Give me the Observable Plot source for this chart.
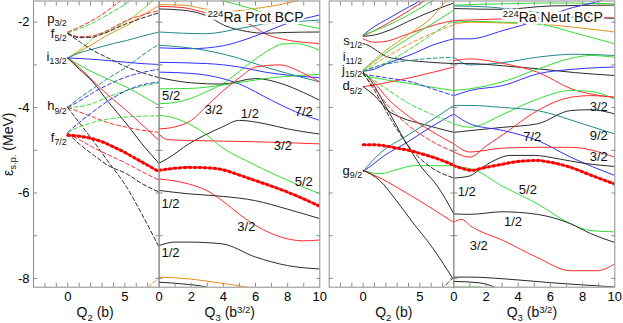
<!DOCTYPE html>
<html><head><meta charset="utf-8">
<script src="https://cdn.jsdelivr.net/npm/d3@7"></script>
<script src="https://cdn.jsdelivr.net/npm/@observablehq/plot@0.6"></script>
<style>
body{margin:0;background:#fff;}
#wrap{position:relative;width:623px;height:323px;overflow:hidden;background:#fff;}
#wrap svg{position:absolute;left:0;top:0;}
</style></head><body><div id="wrap"></div>
<script>
// ---------- values ----------
const omegaValues = ["1/2","3/2","5/2","7/2","9/2","11/2","13/2"];
const energyDomain = [-8.206, -1.504];
const energyTicks = [-8,-7,-6,-5,-4,-3,-2];
const energyLabels = [-8,-6,-4,-2];
const q2Domain = [-3, 8];
const q2Ticks = [-2,-1,0,1,2,3,4,5,6,7];
const q2Labels = [0,5];
const q3Domain = [0, 10];
const q3Ticks = [1,2,3,4,5,6,7,8,9];
const q3Labels = [0,2,4,6,8,10];

// proton, Q2 (omega, parity, points [Q2, E])
const protQ2Curves = [
  ["3/2","-",[[0,-2.23],[1.5,-2.05],[3,-1.82],[4.6,-1.5]]],
  ["5/2","-",[[0,-2.25],[1.5,-2.1],[3,-1.9],[4.6,-1.65],[5.6,-1.48]]],
  ["3/2","-",[[0,-2.25],[1,-2.34],[2,-2.33],[3,-2.25],[5.15,-1.96],[8,-1.73]]],
  ["1/2","-",[[0,-2.27],[1,-2.36],[2,-2.36],[3,-2.28],[5,-2.05],[8,-1.78]]],
  ["1/2","-",[[0,-2.27],[1,-2.45],[2.2,-2.66],[3.7,-2.86],[5.15,-3.05],[6.5,-3.18],[8,-3.3]]],
  ["13/2","+",[[0,-2.84],[1.7,-2.51],[2.6,-2.29],[3.3,-2.25],[4.5,-2.08],[5.5,-1.92],[7,-1.6],[7.6,-1.45]]],
  ["11/2","+",[[0,-2.84],[2.2,-2.51],[3.5,-2.3],[5.15,-2.08],[6.5,-1.85],[8,-1.61]]],
  ["9/2","+",[[0,-2.84],[1,-2.72],[2.2,-2.63],[4,-2.5],[5.15,-2.43],[6.5,-2.33],[8,-2.23]]],
  ["7/2","+",[[0,-2.84],[1,-2.85],[2.2,-2.87],[4,-2.91],[5.15,-2.94],[6.5,-2.97],[8,-2.99]]],
  ["5/2","+",[[0,-2.84],[1,-3.0],[2.2,-3.17],[3.5,-3.33],[5.15,-3.52],[6.5,-3.72],[8,-3.95]]],
  ["3/2","+",[[0,-2.84],[1,-3.06],[2.2,-3.37],[3.5,-3.7],[5.15,-4.07],[6.5,-4.4],[8,-4.77]]],
  ["1/2","+",[[0,-2.84],[1,-3.1],[2.2,-3.4],[3.5,-3.85],[5.15,-4.38],[6.5,-4.85],[8,-5.31]]],
  ["9/2","-",[[0,-3.99],[1,-3.78],[2.2,-3.56],[3.5,-3.32],[5.15,-3.05],[6.5,-2.78],[8,-2.51]]],
  ["7/2","-",[[0,-3.99],[1,-3.85],[2.2,-3.65],[3.5,-3.47],[5.15,-3.28],[6.5,-3.18],[8,-3.1]]],
  ["5/2","-",[[0,-3.99],[1,-3.98],[2.2,-3.9],[3.5,-3.75],[5.15,-3.6],[6.5,-3.5],[8,-3.42]]],
  ["3/2","-",[[0,-3.99],[1,-4.1],[2.2,-4.22],[3.5,-4.35],[5.15,-4.46],[6.5,-4.53],[8,-4.58]]],
  ["1/2","-",[[0,-4.0],[1,-4.35],[2.2,-4.77],[3.5,-5.25],[5.15,-5.86],[6.5,-6.5],[8,-7.27]]],
  ["7/2","-",[[0,-4.58],[1,-4.35],[2.2,-4.1],[3.5,-3.85],[5.15,-3.6],[6.5,-3.47],[8,-3.4]]],
  ["5/2","-",[[0,-4.58],[1,-4.45],[2.2,-4.35],[3.5,-4.27],[5.15,-4.22],[6.5,-4.2],[8,-4.19]]],
  ["3/2","-",[[0,-4.6],[1,-4.75],[2.2,-4.93],[3.5,-5.1],[5.15,-5.31],[6.5,-5.5],[8,-5.7]]],
  ["1/2","-",[[0,-4.6],[1,-4.85],[2.2,-5.1],[3.5,-5.35],[5.15,-5.55],[6.5,-5.78],[8,-5.98]]],
  ["11/2","-",[[6.6,-8.3],[7.3,-8.15],[8,-7.98]]]
];
const protQ2Fermi = [[0,-4.65],[1,-4.67],[2,-4.72],[3,-4.8],[4,-4.92],[5,-5.05],[6,-5.2],[7,-5.35],[8,-5.5]];

// proton, Q3 (omega, points [Q3, E])
const protQ3Curves = [
  ["11/2",[[0,-1.59],[1.5,-1.6],[3,-1.7],[4.5,-1.74],[6,-1.68],[8,-1.55],[9,-1.45]]],
  ["3/2",[[0,-1.63],[1.5,-1.66],[2.9,-1.78],[4.5,-1.92],[5.8,-2.08],[6.6,-2.27],[7.5,-2.38],[10,-2.5]]],
  ["1/2",[[0,-1.69],[1.5,-1.72],[2.9,-1.84],[4.1,-2.08],[5.5,-2.22],[6.6,-2.26],[8,-2.24],[10,-2.23]]],
  ["5/2",[[3.3,-1.42],[4,-1.5],[5.8,-1.69],[7,-1.85],[8.2,-2.0],[10,-2.15]]],
  ["7/2",[[0,-2.6],[2,-2.62],[4,-2.55],[5.8,-2.35],[7.9,-2.04],[10,-1.83]]],
  ["9/2",[[0,-2.23],[2.9,-2.27],[5,-2.15],[6.6,-2.04],[8,-2.0],[10,-1.95]]],
  ["9/2",[[0,-2.54],[2.9,-2.66],[5,-2.85],[6.6,-3.05],[8,-3.2],[10,-3.4]]],
  ["5/2",[[0,-3.91],[1,-3.88],[1.85,-3.8],[3,-3.62],[3.93,-3.45],[5,-3.15],[6,-2.86],[7,-2.62],[7.66,-2.51],[8.5,-2.5],[9.3,-2.56],[10,-2.66]]],
  ["7/2",[[0,-2.94],[3,-2.97],[5,-3.05],[6.6,-3.17],[8,-3.24],[10,-3.3]]],
  ["7/2",[[0,-3.17],[2,-3.2],[3.5,-3.28],[5,-3.45],[7,-3.83],[8.5,-4.1],[10,-4.3]]],
  ["1/2",[[0,-3.3],[2,-3.42],[3.9,-3.45],[6,-3.32],[7.7,-3.45],[9,-3.65],[10,-3.83]]],
  ["5/2",[[0,-3.56],[2,-3.55],[4,-3.47],[6.6,-3.32],[10,-3.22]]],
  ["3/2",[[0,-4.5],[1,-4.45],[2,-4.3],[3,-3.95],[4,-3.6],[5,-3.3],[6,-3.05],[7.5,-3.0],[9,-3.2],[10,-3.4]]],
  ["5/2",[[0,-4.18],[1,-4.25],[1.85,-4.38],[3,-4.65],[3.9,-4.93],[5.4,-5.24],[7.5,-5.62],[10,-6.02]]],
  ["1/2",[[0,-5.3],[0.5,-5.2],[1.85,-4.85],[3.9,-4.46],[5,-4.3],[6.6,-4.38],[8,-4.5],[10,-4.62]]],
  ["3/2",[[0,-4.62],[0.5,-4.75],[2,-4.77],[6,-4.8],[10,-4.85]]],
  ["3/2",[[0,-5.67],[1.85,-5.79],[3,-5.95],[3.93,-6.18],[5,-6.5],[6,-6.76],[7,-6.95],[8.07,-7.08],[9,-7.12],[10,-7.1]]],
  ["1/2",[[0,-5.94],[1.85,-6.02],[4,-6.08],[6,-6.18],[8,-6.38],[10,-6.6]]],
  ["1/2",[[0,-7.23],[1,-7.15],[1.85,-7.15],[3.9,-7.19],[6,-7.5],[8,-7.7],[10,-7.78]]],
  ["11/2",[[0,-7.97],[1.85,-8.01],[4,-8.12],[5.4,-8.2],[6.5,-8.3]]],
  ["1/2",[[0,-8.09],[1.5,-8.13],[2.9,-8.2],[3.8,-8.3]]]
];
const protQ3Fermi = [[0,-5.47],[1,-5.42],[1.85,-5.4],[3,-5.41],[3.9,-5.45],[5,-5.58],[6,-5.71],[8,-5.98],[10,-6.31]];

// neutron, Q2
const neutQ2Curves = [
  ["7/2","+",[[0,-2.3],[1,-2.1],[2.2,-1.92],[3.5,-1.72],[4.55,-1.57],[5,-1.5]]],
  ["3/2","+",[[0,-2.32],[1,-2.2],[2.2,-2.02],[3.5,-1.82],[4.8,-1.6],[5.4,-1.5]]],
  ["5/2","+",[[0,-2.3],[1,-2.2],[2.2,-2.07],[4,-1.83],[5.6,-1.58],[6.2,-1.48]]],
  ["1/2","+",[[0,-2.33],[1,-2.3],[2.2,-2.2],[4,-1.98],[6,-1.75],[8,-1.55]]],
  ["3/2","+",[[0,-2.39],[1,-2.47],[2,-2.45],[3.5,-2.32],[5,-2.18],[6.5,-2.05],[8,-1.96]]],
  ["1/2","+",[[0,-2.5],[0.5,-2.55],[1,-2.63],[2,-2.8],[3,-2.86],[5,-2.92],[8,-2.97]]],
  ["11/2","+",[[0,-3.12],[1,-2.88],[2,-2.66],[3,-2.47],[4.5,-2.2],[6,-1.9],[7,-1.6],[7.4,-1.48]]],
  ["11/2","-",[[0,-3.15],[2,-2.82],[4,-2.52],[6,-2.27],[8,-2.06]]],
  ["5/2","+",[[0,-3.12],[1,-2.92],[2,-2.72],[4,-2.38],[6,-2.05],[8,-1.72]]],
  ["5/2","-",[[0,-3.15],[2,-2.95],[4,-2.65],[6,-2.3],[8,-1.95]]],
  ["9/2","-",[[0,-3.15],[1,-3.05],[2.9,-2.94],[5,-2.87],[8,-2.82]]],
  ["7/2","+",[[0,-3.15],[1,-3.1],[2,-2.98],[4.4,-2.74],[6,-2.55],[8,-2.39]]],
  ["7/2","-",[[0,-3.22],[2,-3.3],[4.4,-3.41],[6,-3.55],[8,-3.72]]],
  ["5/2","+",[[0,-3.25],[2,-3.35],[4.4,-3.45],[6,-3.52],[8,-3.6]]],
  ["5/2","-",[[0,-3.2],[2,-3.55],[4,-3.9],[6,-4.15],[8,-4.38]]],
  ["3/2","+",[[0,-3.51],[1.6,-3.44],[4.3,-3.29],[8,-3.05]]],
  ["1/2","+",[[0,-3.51],[1,-3.72],[2.2,-4.07],[3.5,-4.25],[5.14,-4.38],[8,-4.58]]],
  ["3/2","+",[[0,-3.17],[1,-3.42],[2.2,-3.8],[4,-4.2],[6,-4.55],[8,-4.85]]],
  ["3/2","-",[[0,-3.2],[1,-3.55],[2.5,-4.05],[4,-4.42],[6,-4.78],[8,-5.04]]],
  ["1/2","+",[[0,-3.17],[0.44,-3.29],[2.2,-4.07],[3.67,-4.77],[5.14,-5.39],[6.61,-5.86],[8,-6.49]]],
  ["1/2","-",[[0,-3.2],[1,-3.6],[2.5,-4.3],[4,-4.9],[6,-5.4],[8,-5.65]]],
  ["9/2","+",[[0,-5.5],[0.8,-5.25],[1.62,-5.04],[3.67,-4.69],[6,-4.3],[8,-3.95]]],
  ["7/2","+",[[0,-5.5],[1,-5.3],[2,-5.1],[3.67,-4.85],[6,-4.45],[8,-4.15]]],
  ["5/2","+",[[0,-5.47],[1.47,-5.55],[3,-5.45],[4.5,-5.36],[8,-5.36]]],
  ["3/2","+",[[0,-5.47],[1.5,-5.65],[2.94,-5.86],[5.87,-6.33],[7.93,-6.68]]],
  ["1/2","+",[[0,-5.47],[1.47,-5.71],[2.94,-6.18],[4.4,-6.7],[5.87,-7.19],[7.93,-8.01]]],
  ["1/2","-",[[6.9,-8.25],[7.5,-8.1],[8,-7.97]]]
];
const neutQ2Fermi = [[0,-4.87],[1,-4.87],[2,-4.9],[3,-4.95],[4,-5.0],[5,-5.07],[6,-5.15],[7,-5.24],[8,-5.35]];

// neutron, Q3
const neutQ3Curves = [
  ["5/2",[[0,-1.6],[3,-1.57],[6,-1.55],[10,-1.57]]],
  ["1/2",[[0,-1.68],[3,-1.7],[6,-1.62],[10,-1.6]]],
  ["9/2",[[0,-1.62],[2,-1.64],[4,-1.72],[5.8,-1.8],[10,-1.92]]],
  ["11/2",[[0,-2.05],[1,-2.0],[3.1,-2.02],[5.2,-2.04],[7.5,-2.12],[10,-2.23]]],
  ["5/2",[[0,-2.0],[1,-1.98],[3.1,-2.0],[5.2,-2.04],[7.5,-2.25],[10,-2.51]]],
  ["3/2",[[0,-1.96],[2.5,-1.93],[5,-1.9],[7.5,-1.88],[10,-1.9]]],
  ["7/2",[[0,-2.39],[1,-2.39],[3.1,-2.19],[5.2,-1.96],[7,-1.7],[8.8,-1.53],[9.5,-1.45]]],
  ["9/2",[[0,-2.82],[1,-3.0],[3,-2.95],[5.2,-2.82],[7.5,-2.75],[10,-2.78]]],
  ["1/2",[[0,-2.97],[1,-2.97],[3,-3.02],[5.2,-3.09],[7.5,-3.18],[10,-3.25]]],
  ["3/2",[[0,-2.9],[1,-2.86],[3.1,-2.97],[5.2,-3.17],[7.3,-3.56],[10,-3.76]]],
  ["7/2",[[0,-3.72],[1,-3.6],[3.1,-3.48],[5.2,-3.21],[7.5,-3.1],[10,-3.05]]],
  ["5/2",[[0,-3.6],[1,-3.56],[3,-3.4],[5.2,-3.1],[7.25,-2.85],[8.5,-2.78],[10,-2.82]]],
  ["5/2",[[0,-4.38],[1,-4.46],[3.1,-4.15],[5.2,-3.8],[7.25,-3.6],[8.5,-3.62],[10,-3.8]]],
  ["9/2",[[0,-3.95],[1,-3.95],[3.1,-4.0],[5.2,-4.07],[8,-4.38],[10,-4.62]]],
  ["1/2",[[0,-4.58],[1,-4.54],[3.1,-4.46],[5.2,-4.38],[7.25,-4.07],[8.5,-4.05],[10,-4.15]]],
  ["3/2",[[0,-5.04],[1,-5.16],[2,-4.9],[3.1,-4.62],[5.2,-4.07],[7.25,-3.76],[8.5,-3.72],[10,-3.76]]],
  ["7/2",[[0,-4.15],[1,-4.38],[3.1,-4.54],[5.2,-4.77],[7.25,-5.16],[10,-5.59]]],
  ["3/2",[[0,-4.85],[1,-5.04],[3,-4.95],[5.2,-4.93],[7.25,-4.93],[10,-5.16]]],
  ["1/2",[[0,-5.65],[1,-5.6],[1.66,-5.43],[2.5,-5.24],[3.5,-5.12],[5,-5.12],[6.5,-5.2],[8,-5.3],[10,-5.38]]],
  ["5/2",[[0,-5.36],[0.5,-5.4],[1.04,-5.43],[3.11,-5.86],[5.18,-6.25],[7.25,-6.72],[8.5,-6.88],[10,-6.91]]],
  ["1/2",[[0,-6.49],[1,-6.5],[3,-6.44],[5.18,-6.5],[7.25,-6.72],[8.5,-6.95],[10,-7.16]]],
  ["3/2",[[0,-6.68],[0.5,-6.62],[1.04,-6.77],[3.11,-7.12],[5.18,-7.51],[7.25,-7.82],[8.9,-7.82],[10,-7.66]]],
  ["1/2",[[0,-7.97],[1.04,-7.97],[3.11,-8.01],[6,-8.1],[10,-8.2]]],
  ["1/2",[[0,-8.07],[1.5,-8.1],[2.5,-8.2],[3,-8.3]]],
  ["5/2",[[0,-8.2],[1.5,-8.2],[2.2,-8.25]]]
];
const neutQ3Fermi = [[0,-5.36],[0.5,-5.42],[1.04,-5.47],[2,-5.4],[3.11,-5.32],[4,-5.26],[5.18,-5.24],[6,-5.28],[7.25,-5.4],[8.5,-5.58],[10,-5.79]];

// labels
const protShellLabels = [["p_{3/2}",-1.93],["f_{5/2}",-2.27],["i_{13/2}",-2.8],["h_{9/2}",-3.97],["f_{7/2}",-4.7]];
const neutShellLabels = [["s_{1/2}",-2.43],["i_{11/2}",-2.8],["j_{15/2}",-3.12],["d_{5/2}",-3.5],["g_{9/2}",-5.47]];
const shellLabelQ2 = -0.1;
const protOmegaLabels = [["5/2",0.75,-3.72],["3/2",3.4,-4.05],["1/2",5.65,-4.15],["7/2",9.0,-4.11],["3/2",7.7,-4.89],
  ["5/2",9.0,-5.75],["1/2",0.71,-6.25],["3/2",5.43,-6.8],["1/2",0.71,-7.39]];
const neutOmegaLabels = [["1/2",0.8,-5.98],["3/2",1.55,-7.23],["5/2",4.6,-5.93],["1/2",3.68,-6.68],["7/2",4.87,-4.69],
  ["3/2",9.0,-3.99],["9/2",9.0,-4.65],["3/2",9.0,-5.16]];
const protTitle = ["^{224}Ra Prot BCP", 6.0, -1.89];
const neutTitle = ["^{224}Ra Neut BCP", 6.15, -1.89];
const q2Title = "Q_{2} (b)";
const q3Title = "Q_{3} (b^{3/2})";
const yTitle = "ε_{s.p.} (MeV)";

// ---------- styles ----------
const omegaColors = ["#2a2a2a","#ff2b2b","#33dd33","#3030ff","#228888","#e8901c","#99cc33"];
const frameColor = "#8c8c8c";
const font = "'Liberation Sans', Arial, Helvetica, sans-serif";
const H = 323, W = 623, TOP = 0.5, BOTTOM = 286.7;

function panel({left, right, xDomain, xTicks, xLabels, curves, hasParity, fermi, yAxisLabels, texts}) {
  const rows = curves.flatMap((c, i) => {
    const k = c[0], p = hasParity ? c[1] : "+", pts = hasParity ? c[2] : c[1];
    return pts.map(([x, y]) => ({id: i, k, p, x, y}));
  });
  const tickOpts = {stroke: frameColor, tickFormat: () => "", label: null, tickSize: 4};
  const marks = [
    Plot.line(rows.filter(d => d.p === "+"), {x: "x", y: "y", z: "id", stroke: "k", strokeWidth: 1, curve: "monotone-x", clip: true}),
    Plot.line(rows.filter(d => d.p === "-"), {x: "x", y: "y", z: "id", stroke: "k", strokeWidth: 1, strokeDasharray: "4,2.5", curve: "monotone-x", clip: true}),
    Plot.line(fermi, {x: d => d[0], y: d => d[1], stroke: "#ff0000", strokeWidth: 3, strokeDasharray: "2,3", curve: "monotone-x", clip: true}),
    Plot.frame({stroke: frameColor}),
    Plot.axisX({...tickOpts, ticks: xTicks, anchor: "bottom", dy: -4}),
    Plot.axisX({...tickOpts, ticks: xTicks, anchor: "top", dy: 4}),
    Plot.axisY({...tickOpts, ticks: energyTicks, anchor: "left", dx: 4}),
    Plot.axisY({...tickOpts, ticks: energyTicks, anchor: "right", dx: -4}),
    Plot.axisX({ticks: xLabels, anchor: "bottom", tickSize: 0, tickPadding: 5, fontSize: 13, tickFormat: d => String(d), label: null})
  ];
  if (yAxisLabels) marks.push(Plot.axisY({ticks: energyLabels, anchor: "left", tickSize: 0, tickPadding: 4, fontSize: 13, tickFormat: d => String(d), label: null}));
  marks.push(...texts);
  return Plot.plot({
    width: W, height: H,
    marginLeft: left, marginRight: W - right, marginTop: TOP, marginBottom: H - BOTTOM,
    x: {domain: xDomain, label: null},
    y: {domain: energyDomain, label: null},
    color: {type: "ordinal", domain: omegaValues, range: omegaColors},
    style: {background: "transparent", fontFamily: font, fontSize: "13px", overflow: "visible"},
    marks
  });
}

const shellText = (labels) => Plot.text(labels, {x: shellLabelQ2, y: d => d[1], text: d => d[0], textAnchor: "end", fontSize: 13, fill: "#111"});
const omegaText = (labels) => Plot.text(labels, {x: d => d[1], y: d => d[2], text: d => d[0], fontSize: 13, fill: "#111"});
const titleText = (t) => [
  Plot.text([t], {x: d => d[1], y: d => d[2], text: d => d[0], fontSize: 14, fill: "white", stroke: "white", strokeWidth: 5}),
  Plot.text([t], {x: d => d[1], y: d => d[2], text: d => d[0], fontSize: 14, fill: "#111"})
];
const axisTitle = (t, xc) => Plot.text([t], {x: xc, frameAnchor: "bottom", lineAnchor: "middle", dy: 25.5, fontSize: 14, fill: "#111"});

const wrap = document.getElementById("wrap");
const plots = [
  panel({left: 33, right: 158.6, xDomain: q2Domain, xTicks: q2Ticks, xLabels: q2Labels, curves: protQ2Curves, hasParity: true, fermi: protQ2Fermi, yAxisLabels: true,
    texts: [shellText(protShellLabels), axisTitle(q2Title, 2.4),
      Plot.text([yTitle], {frameAnchor: "left", y: -4.86, rotate: -90, dx: -25, textAnchor: "middle", lineAnchor: "middle", fontSize: 14, fill: "#111"})]}),
  panel({left: 158.6, right: 319.3, xDomain: q3Domain, xTicks: q3Ticks, xLabels: q3Labels, curves: protQ3Curves, hasParity: false, fermi: protQ3Fermi,
    texts: [omegaText(protOmegaLabels), ...titleText(protTitle), axisTitle(q3Title, 4.4)]}),
  panel({left: 328.7, right: 453.3, xDomain: q2Domain, xTicks: q2Ticks, xLabels: q2Labels, curves: neutQ2Curves, hasParity: true, fermi: neutQ2Fermi,
    texts: [shellText(neutShellLabels), axisTitle(q2Title, 2.7)]}),
  panel({left: 453.3, right: 614.3, xDomain: q3Domain, xTicks: q3Ticks, xLabels: q3Labels, curves: neutQ3Curves, hasParity: false, fermi: neutQ3Fermi,
    texts: [omegaText(neutOmegaLabels), ...titleText(neutTitle), axisTitle(q3Title, 4.85)]})
];
plots.forEach(p => wrap.appendChild(p));

// sub/superscript markup -> tspans (text stays real text)
function richify(svg) {
  svg.querySelectorAll("text").forEach(t => {
    const s = t.textContent;
    if (!/[_^]\{/.test(s)) return;
    const fs = parseFloat(getComputedStyle(t).fontSize) || 13;
    while (t.firstChild) t.removeChild(t.firstChild);
    const re = /([_^])\{([^}]*)\}/g;
    let last = 0, m, shift = 0;
    const add = (txt, dy, small) => {
      const ts = document.createElementNS("http://www.w3.org/2000/svg", "tspan");
      ts.textContent = txt;
      if (dy) ts.setAttribute("dy", dy.toFixed(2));
      if (small) ts.setAttribute("font-size", (fs * 0.68).toFixed(1));
      t.appendChild(ts);
    };
    while ((m = re.exec(s))) {
      if (m.index > last) { add(s.slice(last, m.index), -shift, false); shift = 0; }
      const d = m[1] === "_" ? 0.24 * fs : -0.33 * fs;
      add(m[2], d - shift, true); shift = d;
      last = re.lastIndex;
    }
    if (last < s.length) add(s.slice(last), -shift, false);
  });
}
plots.forEach(richify);
</script></body></html>
